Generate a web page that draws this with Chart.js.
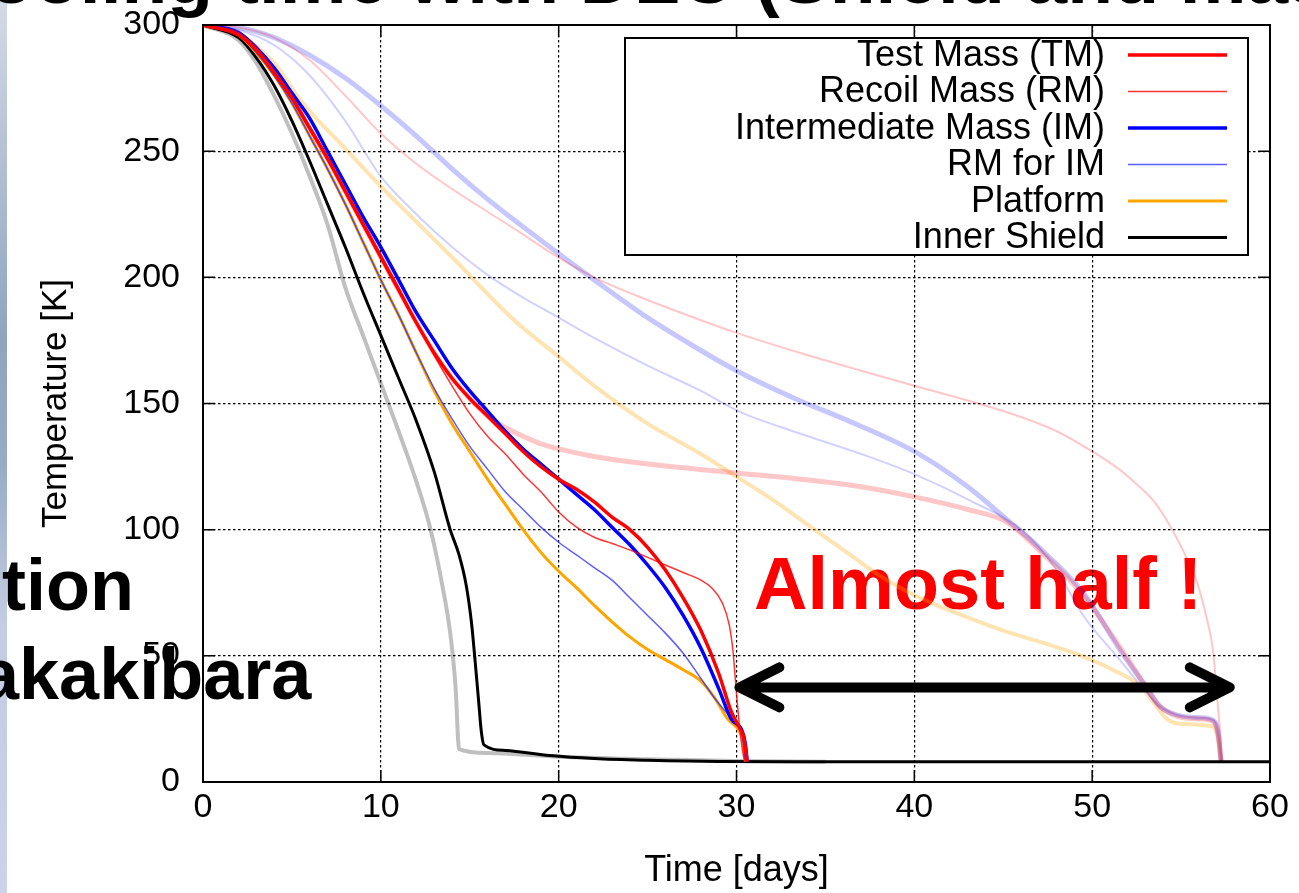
<!DOCTYPE html>
<html>
<head>
<meta charset="utf-8">
<title>Cooling time</title>
<script src="https://cdn.jsdelivr.net/npm/chart.js@4.4.1/dist/chart.umd.min.js"></script>
<style>
  html, body { margin: 0; padding: 0; width: 1299px; height: 893px; overflow: hidden; background: #fff; }
  #stripe {
    position: absolute; left: 0; top: 0; width: 7px; height: 893px;
    background: linear-gradient(to bottom, #d4dae7 0%, #b3c0d3 18%, #8fa4bf 38%, #98abc6 52%, #c3cce2 70%, #cbd2ea 100%);
  }
  .slide {
    position: absolute; font-family: "Liberation Sans", Arial, sans-serif; font-weight: bold;
    line-height: 1; white-space: nowrap; color: #000;
  }
  #heading { left: -66px; top: -60px; font-size: 75px; z-index: 3; }
  #note { left: 754px; top: 547px; font-size: 74px; color: #ff0000; z-index: 1; }
  #tail1 { left: 2px; top: 549px; font-size: 72px; z-index: 3; }
  #tail2 { left: -21px; top: 638px; font-size: 72px; z-index: 3; }
  #wrap { position: absolute; left: 0; top: 0; width: 1299px; height: 893px; z-index: 2; }
</style>
</head>
<body>
<div id="stripe"></div>
<div class="slide" id="heading">Cooling time with DLC (Shield and mass)</div>
<div class="slide" id="note">Almost half !</div>
<div id="wrap"><canvas id="cooling" width="1299" height="893"></canvas></div>
<div class="slide" id="tail1">tion</div>
<div class="slide" id="tail2">akakibara</div>
<script>
const names = ["Test Mass (TM)", "Recoil Mass (RM)", "Intermediate Mass (IM)", "RM for IM", "Platform", "Inner Shield"];

// with DLC
const tmDays = [0, 2, 3, 4, 5, 6, 7, 8, 9, 10, 11, 12, 13, 14, 15, 16, 17, 18, 19, 20, 21, 22, 23, 24, 25, 26, 27, 28, 29, 29.7, 30.2, 30.4, 30.6];
const tmTemp = [300, 296, 290, 281, 271, 259, 247, 234, 221, 208, 195, 182, 170, 160, 152, 145, 138, 131, 125, 120, 116, 111, 105, 100, 93, 84, 73, 60, 43, 28, 21, 18, 8];

const rmDays = [0, 2, 3, 4, 5, 6, 7, 8, 9, 10, 11, 12, 13, 14, 15, 16, 17, 18, 19, 20, 21, 22, 23, 24, 25, 26, 27, 28, 28.6, 29.2, 29.6, 29.8, 30.0, 30.2, 30.4, 30.5];
const rmTemp = [300, 297, 291, 282, 272, 260, 248, 235, 222, 209, 196, 182, 169, 157, 146, 137, 130, 122, 115, 107, 101, 97, 94.5, 92, 89, 86, 83, 80, 77, 71, 62, 52, 35, 20, 10, 8];

const imDays = [0, 2, 3, 4, 5, 6, 7, 8, 9, 10, 11, 12, 13, 14, 15, 16, 17, 18, 19, 20, 21, 22, 23, 24, 25, 26, 27, 28, 29, 29.7, 30.3, 30.5, 30.6];
const imTemp = [300, 297, 291, 283, 273, 263, 250, 237, 224, 212, 199, 186, 175, 164, 155, 147, 139, 132, 126, 120, 114, 108, 101, 94, 86, 77, 66, 53, 37, 25, 20.5, 15, 8];

const rmImDays = [0, 2, 3, 4, 5, 6, 7, 8, 9, 10, 11, 12, 13, 14, 15, 16, 17, 18, 19, 20, 21, 22, 23, 24, 25, 26, 27, 28, 28.9, 29.5, 30.0, 30.3, 30.5];
const rmImTemp = [300, 296, 289, 280, 269, 256, 243, 229, 214, 199, 185, 170, 156, 144, 133, 124, 115, 108, 101, 95, 90, 85, 80, 73, 66, 59, 51, 41, 32, 27, 22.5, 19.5, 8];

const pfDays = [0, 2, 3, 4, 5, 6, 7, 8, 9, 10, 11, 12, 13, 14, 15, 16, 17, 18, 19, 20, 21, 22, 23, 24, 25, 26, 27, 28, 28.8, 29.5, 30.2, 30.4, 30.5];
const pfTemp = [300, 296, 289, 280, 269, 256, 243, 229, 214, 199, 185, 170, 155, 142, 131, 120, 110, 100, 91, 83.5, 77, 70, 63.5, 57.5, 52.5, 48.5, 44.5, 40, 33, 25, 19.5, 15, 8];

const isDays = [0, 2, 3, 4, 5, 6, 7, 8, 9, 10, 11, 12, 13, 13.9, 14.4, 14.8, 15.1, 15.3, 15.5, 15.65, 15.8, 17, 19.5, 22, 25, 29, 35, 60];
const isTemp = [300, 295, 287, 276, 262, 246, 229, 212, 194, 177, 160, 143, 123, 100, 90, 78, 63, 48, 32, 20, 14.7, 12.5, 10.5, 9.3, 8.6, 8.1, 8, 8];

// without DLC
const tmRefDays = [0, 2, 3, 4, 5, 6, 7, 8, 9, 10, 11, 12, 13, 14, 15, 16, 17, 18, 19, 20, 22, 25, 30, 33.6, 37, 40, 43, 45.2, 47, 49.5, 51.6, 53, 53.8, 54.8, 56, 56.8, 57.1, 57.25];
const tmRefTemp = [300, 296, 290, 281, 271, 259, 247, 234, 221, 208, 195, 182, 170, 160, 152, 145, 140.5, 137, 134, 132, 129, 126, 122.5, 120, 117, 113, 108, 103, 92, 74, 53, 38, 30, 26, 25, 24, 18, 8];

const rmRefDays = [0, 2, 4, 6, 8, 10, 12, 14, 16, 18, 19.5, 22, 25, 28, 30, 33.6, 37, 40, 45, 48, 50, 51.5, 52.5, 53.5, 54.5, 55.3, 55.9, 56.4, 56.8, 57.0, 57.2, 57.3];
const rmRefTemp = [300, 299, 295, 286, 272, 257, 245, 235, 226, 217, 210, 200, 191, 183, 178, 170, 163, 157, 147, 139, 131, 124, 118, 111, 100, 89, 79, 66, 52, 36, 19, 8];

const imRefDays = [0, 2, 4, 6, 8, 10, 12, 14, 16, 18, 19.5, 22, 25, 28, 30, 33.6, 36, 40, 43, 45.2, 47, 49.5, 51.6, 53, 53.8, 54.8, 56, 56.8, 57.1, 57.25];
const imRefTemp = [300, 299, 295, 288, 279, 268, 256, 243, 231, 220, 212, 199, 184, 171, 163, 151, 144, 131, 117, 104, 93, 75, 52, 38, 30, 26.5, 25.5, 24.5, 19, 8];

const rmImRefDays = [0, 2, 4, 6, 8, 10, 12, 14, 16, 18, 19.5, 22, 25, 28, 30.1, 33.6, 37, 40, 43, 46.2, 48, 49.5, 51.6, 53, 53.8, 54.8, 56, 56.8, 57.1, 57.25];
const rmImRefTemp = [300, 298, 292, 280, 262, 240, 225, 212, 201, 192, 186, 176, 165, 155, 147, 138, 130, 122, 112, 99, 84, 66, 48, 36, 30, 26.5, 25.5, 24.5, 19, 8];

const pfRefDays = [0, 2, 4, 5.5, 8, 10, 12, 14, 17.5, 20.1, 22, 25, 28, 30, 32, 34, 36, 38, 40, 42, 45, 47.3, 49.4, 51, 52.7, 53.5, 54.2, 55, 56.8, 57.1, 57.25];
const pfRefTemp = [300, 296, 285, 270, 251, 236, 222, 208, 183, 168, 157, 142, 130, 121, 112, 102, 92, 82, 74, 68, 60, 55, 50, 45, 38, 31, 25, 23, 22, 16, 8];

const isRefDays = [0, 2, 3, 4, 5, 6, 7, 8, 9, 10, 11, 12, 12.8, 13.4, 13.9, 14.2, 14.4, 16, 20, 25, 30, 35];
const isRefTemp = [300, 294, 285, 272, 257, 240, 221, 196, 177, 158, 139, 119, 100, 80, 59, 38, 13, 11.5, 10, 9, 8.3, 8];

const xTicks = [0, 10, 20, 30, 40, 50, 60];
const yTicks = [0, 50, 100, 150, 200, 250, 300];

// the arrow between the two end points of the cool-down
const arrowFrom = 30.05;
const arrowTo = 57.85;
const arrowLevel = 37.5;

const font = "'Liberation Sans', Arial, sans-serif";

function points(days, temps) {
  return days.map((d, i) => ({ x: d, y: temps[i] }));
}

function line(label, days, temps, color, width, inLegend) {
  return {
    label: label,
    data: points(days, temps),
    borderColor: color,
    borderWidth: width,
    pointRadius: 0,
    fill: false,
    cubicInterpolationMode: "monotone",
    inLegend: inLegend
  };
}

const datasets = [
  line(names[0], tmDays, tmTemp, "#ff0000", 3.5, true),
  line(names[1], rmDays, rmTemp, "rgba(255, 0, 0, 0.8)", 1.5, true),
  line(names[2], imDays, imTemp, "#0000ff", 3.5, true),
  line(names[3], rmImDays, rmImTemp, "rgba(40, 40, 255, 0.75)", 1.5, true),
  line(names[4], pfDays, pfTemp, "#ffa500", 3, true),
  line(names[5], isDays, isTemp, "#000000", 3, true),
  line(names[0], tmRefDays, tmRefTemp, "rgba(255, 0, 0, 0.22)", 5, false),
  line(names[1], rmRefDays, rmRefTemp, "rgba(255, 0, 0, 0.22)", 2, false),
  line(names[2], imRefDays, imRefTemp, "rgba(0, 0, 255, 0.22)", 5, false),
  line(names[3], rmImRefDays, rmImRefTemp, "rgba(0, 0, 255, 0.18)", 2, false),
  line(names[4], pfRefDays, pfRefTemp, "rgba(255, 165, 0, 0.3)", 4, false),
  line(names[5], isRefDays, isRefTemp, "rgba(0, 0, 0, 0.25)", 4, false)
];

// frame, inner tick marks, key box and arrow
const decorations = {
  id: "decorations",
  afterDatasetsDraw(chart) {
    const c = chart.ctx;
    const a = chart.chartArea;
    const xs = chart.scales.x;
    const ys = chart.scales.y;

    c.save();
    c.strokeStyle = "#000";
    c.lineWidth = 1.5;
    c.beginPath();
    xTicks.forEach(v => {
      const px = xs.getPixelForValue(v);
      c.moveTo(px, a.top); c.lineTo(px, a.top + 12);
      c.moveTo(px, a.bottom); c.lineTo(px, a.bottom - 12);
    });
    yTicks.forEach(v => {
      const py = ys.getPixelForValue(v);
      c.moveTo(a.left, py); c.lineTo(a.left + 12, py);
      c.moveTo(a.right, py); c.lineTo(a.right - 12, py);
    });
    c.stroke();

    c.lineWidth = 2;
    c.strokeRect(a.left, a.top, a.right - a.left, a.bottom - a.top);

    // key
    const bx = a.right - 645, by = a.top + 13, bw = 623, bh = 217;
    c.fillStyle = "#fff";
    c.fillRect(bx, by, bw, bh);
    c.strokeStyle = "#000";
    c.lineWidth = 2;
    c.strokeRect(bx, by, bw, bh);
    c.font = "36px " + font;
    c.textAlign = "right";
    c.textBaseline = "middle";
    let row = 0;
    chart.data.datasets.forEach(ds => {
      if (!ds.inLegend) return;
      const ry = a.top + 30 + row * 36.5;
      c.fillStyle = "#000";
      c.fillText(ds.label, a.right - 165, ry + 1);
      c.strokeStyle = ds.borderColor;
      c.lineWidth = ds.borderWidth;
      c.beginPath();
      c.moveTo(a.right - 142, ry);
      c.lineTo(a.right - 43, ry);
      c.stroke();
      row++;
    });

    // double arrow
    const x1 = xs.getPixelForValue(arrowFrom);
    const x2 = xs.getPixelForValue(arrowTo);
    const y = ys.getPixelForValue(arrowLevel);
    c.strokeStyle = "#000";
    c.lineWidth = 10;
    c.lineCap = "round";
    c.lineJoin = "round";
    c.beginPath();
    c.moveTo(x1 + 4, y); c.lineTo(x2 - 4, y);
    c.moveTo(x1 + 42, y - 20); c.lineTo(x1 + 2, y); c.lineTo(x1 + 42, y + 20);
    c.moveTo(x2 - 42, y - 20); c.lineTo(x2 - 2, y); c.lineTo(x2 - 42, y + 20);
    c.stroke();
    c.restore();
  }
};

new Chart(document.getElementById("cooling"), {
  type: "line",
  data: { datasets: datasets },
  options: {
    responsive: false,
    animation: false,
    devicePixelRatio: 1,
    layout: { autoPadding: false, padding: { top: 25, right: 29, left: 0, bottom: 0 } },
    plugins: { legend: { display: false }, tooltip: { enabled: false } },
    scales: {
      x: {
        type: "linear",
        min: 0,
        max: 60,
        afterBuildTicks(scale) { scale.ticks = xTicks.map(v => ({ value: v })); },
        ticks: { color: "#000", font: { family: font, size: 34 }, padding: 5, maxRotation: 0 },
        grid: { color: "#000", lineWidth: 1.2, drawTicks: false },
        border: { display: false, dash: [2.5, 2.5] },
        title: { display: true, text: "Time [days]", color: "#000", font: { family: font, size: 36 }, padding: { top: 0, bottom: 0 } },
        afterFit(scale) { scale.height = 111; scale.paddingLeft = 0; scale.paddingRight = 0; }
      },
      y: {
        type: "linear",
        min: 0,
        max: 300,
        afterBuildTicks(scale) { scale.ticks = yTicks.map(v => ({ value: v })); },
        ticks: { color: "#000", font: { family: font, size: 34 }, padding: 23 },
        grid: { color: "#000", lineWidth: 1.2, drawTicks: false },
        border: { display: false, dash: [2.5, 2.5] },
        title: { display: true, text: "Temperature [K]", color: "#000", font: { family: font, size: 35 }, padding: { top: 35, bottom: 0 } },
        afterFit(scale) { scale.width = 203; scale.paddingTop = 0; scale.paddingBottom = 0; }
      }
    }
  },
  plugins: [decorations]
});
</script>
</body>
</html>
